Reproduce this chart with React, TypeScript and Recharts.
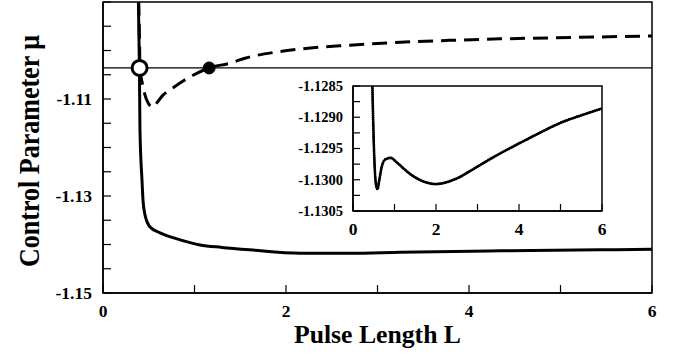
import React from 'react';
import {
  LineChart,
  Line,
  XAxis,
  YAxis,
  ReferenceLine,
  ReferenceDot,
  ReferenceArea,
} from 'recharts';

const FONT = '"Liberation Serif", "Times New Roman", Times, serif';

// Upper branch (dashed)
const dashedL = [0.385, 0.399, 0.404, 0.43, 0.459, 0.49, 0.514, 0.546, 0.6, 0.656, 0.75, 0.842, 0.984, 1.16, 1.39, 1.55, 1.9, 2.15, 2.7, 3.25, 3.8, 4.34, 4.9, 5.43, 6.0];
const dashedMu = [-1.085, -1.0978, -1.1036, -1.1068, -1.1092, -1.1107, -1.1114, -1.1117, -1.1105, -1.1092, -1.1079, -1.1067, -1.1051, -1.1036, -1.1026, -1.1016, -1.1003, -1.0997, -1.0989, -1.0983, -1.0979, -1.0976, -1.0974, -1.0972, -1.097];

// Lower branch (solid)
const solidL = [0.383, 0.398, 0.404, 0.426, 0.437, 0.459, 0.514, 0.623, 0.8, 1.06, 1.3, 1.607, 2.153, 2.7, 3.246, 4.339, 5.432, 6.0];
const solidMu = [-1.085, -1.1036, -1.1164, -1.1267, -1.1308, -1.1339, -1.1364, -1.1376, -1.1388, -1.1401, -1.1406, -1.1411, -1.1418, -1.1418, -1.1416, -1.1413, -1.1411, -1.141];

// Inset: lower branch magnified
const insetL = [0.46, 0.48, 0.5, 0.53, 0.56, 0.59, 0.63, 0.69, 0.77, 0.91, 1.05, 1.2, 1.4, 1.6, 1.8, 2.0, 2.2, 2.5, 2.8, 3.2, 3.6, 4.0, 4.5, 5.0, 5.5, 6.0];
const insetMu = [-1.1283, -1.1289, -1.1294, -1.1299, -1.1301, -1.13015, -1.13002, -1.1298, -1.12968, -1.12965, -1.12972, -1.12981, -1.12992, -1.13, -1.13005, -1.13007, -1.13005, -1.12998, -1.12987, -1.12971, -1.12956, -1.12942, -1.12925, -1.12909, -1.12897, -1.12886];

// Threshold level and marked crossings
const thresholdMu = -1.1036;
const openPointL = 0.4;
const filledPointL = 1.16;

// Axis ticks (labelled values listed separately)
const mainXTicks = [0, 1, 2, 3, 4, 5, 6];
const mainXLabels = [0, 2, 4, 6];
const mainYTicks = [-1.15, -1.145, -1.14, -1.135, -1.13, -1.125, -1.12, -1.115, -1.11, -1.105, -1.1, -1.095, -1.09];
const mainYLabels = [-1.15, -1.13, -1.11];
const insetXTicks = [0, 1, 2, 3, 4, 5, 6];
const insetXLabels = [0, 2, 4, 6];
const insetYTicks = [-1.1305, -1.13025, -1.13, -1.12975, -1.1295, -1.12925, -1.129, -1.12875, -1.1285];
const insetYLabels = [-1.1305, -1.13, -1.1295, -1.129, -1.1285];

const dashedData = dashedL.map((L, i) => ({ L, mu: dashedMu[i] }));
const solidData = solidL.map((L, i) => ({ L, mu: solidMu[i] }));
const insetData = insetL.map((L, i) => ({ L, mu: insetMu[i] }));

const isLabelled = (labels: number[], v: number) => labels.some((l) => Math.abs(l - v) < 1e-9);

// Tick text renderer: bold serif, drawn only for labelled values
const makeTick =
  (labels: number[], digits: number, size: number, side: 'left' | 'bottom') =>
  (props: any) => {
    const { x, y, payload } = props;
    const v = payload.value as number;
    if (!isLabelled(labels, v)) return <g />;
    return (
      <text
        x={x}
        y={y}
        dy={side === 'left' ? '0.34em' : '0.7em'}
        textAnchor={side === 'left' ? 'end' : 'middle'}
        fontFamily={FONT}
        fontWeight={700}
        fontSize={size}
        fill="#000"
      >
        {v.toFixed(digits)}
      </text>
    );
  };

const XTitle = (props: any) => {
  const vb = props.viewBox || { x: 103, y: 293, width: 549, height: 61 };
  return (
    <text
      x={vb.x + vb.width / 2}
      y={vb.y + 50}
      textAnchor="middle"
      fontFamily={FONT}
      fontWeight={700}
      fontSize={26}
      textLength={167}
      lengthAdjust="spacingAndGlyphs"
      fill="#000"
    >
      Pulse Length L
    </text>
  );
};

const YTitle = (props: any) => {
  const vb = props.viewBox || { x: 0, y: 2, width: 103, height: 291 };
  const cx = 28;
  const cy = vb.y + vb.height / 2 + 3.5;
  return (
    <text
      x={cx}
      y={cy}
      transform={`rotate(-90, ${cx}, ${cy})`}
      textAnchor="middle"
      dominantBaseline="central"
      fontFamily={FONT}
      fontWeight={700}
      fontSize={30}
      textLength={232}
      lengthAdjust="spacingAndGlyphs"
      fill="#000"
    >
      Control Parameter μ
    </text>
  );
};

export default function App() {
  return (
    <div style={{ position: 'absolute', left: 0, top: 0, width: 678, height: 354, background: '#fff' }}>
      <div style={{ position: 'absolute', left: 0, top: 0 }}>
        <LineChart width={678} height={354} margin={{ top: 2, right: 26, bottom: 0, left: 0 }}>
          <XAxis
            type="number"
            dataKey="L"
            domain={[0, 6]}
            ticks={mainXTicks}
            interval={0}
            tickSize={-8}
            tickMargin={20}
            height={61}
            axisLine={{ stroke: '#000', strokeWidth: 1.5 }}
            tickLine={{ stroke: '#000', strokeWidth: 1.2 }}
            tick={makeTick(mainXLabels, 0, 17.5, 'bottom')}
            allowDataOverflow
            label={<XTitle />}
          />
          <YAxis
            type="number"
            dataKey="mu"
            domain={[-1.15, -1.09]}
            ticks={mainYTicks}
            interval={0}
            tickSize={-8}
            tickMargin={19}
            width={103}
            axisLine={{ stroke: '#000', strokeWidth: 1.5 }}
            tickLine={{ stroke: '#000', strokeWidth: 1.2 }}
            tick={makeTick(mainYLabels, 2, 17.5, 'left')}
            allowDataOverflow
            label={<YTitle />}
          />
          <ReferenceArea x1={0} x2={6} y1={-1.15} y2={-1.09} fill="none" fillOpacity={0} stroke="#000" strokeWidth={1.5} />
          <ReferenceLine y={thresholdMu} stroke="#000" strokeWidth={1.3} />
          <Line
            data={solidData}
            dataKey="mu"
            type="monotone"
            stroke="#000"
            strokeWidth={3}
            dot={false}
            isAnimationActive={false}
          />
          <Line
            data={dashedData}
            dataKey="mu"
            type="monotone"
            stroke="#000"
            strokeWidth={3}
            strokeDasharray="15 8"
            dot={false}
            isAnimationActive={false}
          />
          <ReferenceDot x={openPointL} y={thresholdMu} r={7.5} fill="#fff" stroke="#000" strokeWidth={3} />
          <ReferenceDot x={filledPointL} y={thresholdMu} r={6} fill="#000" stroke="#000" strokeWidth={1} />
        </LineChart>
      </div>
      <div style={{ position: 'absolute', left: 270, top: 76 }}>
        <LineChart width={345} height={170} margin={{ top: 10, right: 13, bottom: 0, left: 0 }}>
          <XAxis
            type="number"
            dataKey="L"
            domain={[0, 6]}
            ticks={insetXTicks}
            interval={0}
            tickSize={-7}
            tickMargin={19}
            height={35}
            axisLine={{ stroke: '#000', strokeWidth: 1.5 }}
            tickLine={{ stroke: '#000', strokeWidth: 1.2 }}
            tick={makeTick(insetXLabels, 0, 17.5, 'bottom')}
            allowDataOverflow
          />
          <YAxis
            type="number"
            dataKey="mu"
            domain={[-1.1305, -1.1285]}
            ticks={insetYTicks}
            interval={0}
            tickSize={-7}
            tickMargin={17}
            width={83}
            axisLine={{ stroke: '#000', strokeWidth: 1.5 }}
            tickLine={{ stroke: '#000', strokeWidth: 1.2 }}
            tick={makeTick(insetYLabels, 4, 14.5, 'left')}
            allowDataOverflow
          />
          <ReferenceArea x1={0} x2={6} y1={-1.1305} y2={-1.1285} fill="none" fillOpacity={0} stroke="#000" strokeWidth={1.5} />
          {/* beaded trace: round dots packed tightly along the curve */}
          <Line
            data={insetData}
            dataKey="mu"
            type="monotone"
            stroke="#000"
            strokeWidth={2.9}
            strokeDasharray="0 2.1"
            strokeLinecap="round"
            dot={false}
            isAnimationActive={false}
          />
          <Line
            data={insetData}
            dataKey="mu"
            type="monotone"
            stroke="#000"
            strokeWidth={1.8}
            dot={false}
            isAnimationActive={false}
          />
        </LineChart>
      </div>
    </div>
  );
}
